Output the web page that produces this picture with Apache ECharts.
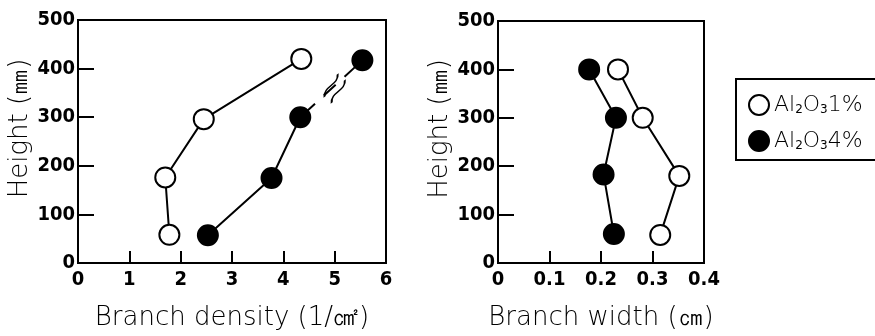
<!DOCTYPE html>
<html>
<head>
<meta charset="utf-8">
<script src="https://cdn.jsdelivr.net/npm/echarts@6/dist/echarts.min.js"></script>
<style>
  html, body { margin: 0; padding: 0; background: #fff; }
  #chart { width: 875px; height: 336px; }
</style>
</head>
<body>
<div id="chart"></div>
<script>
/* data: [value, height(mm)] */
let densityOpen = [[1.78, 58], [1.70, 176], [2.45, 296], [4.35, 420]];
let densityFilled = [[2.53, 57], [3.77, 175], [4.33, 300]];
let densityFilledTop = [[4.33, 300], [5.54, 417]];
let densityBreak = [5.0, 359];
let widthOpen = [[0.315, 58], [0.352, 180], [0.281, 300], [0.233, 400]];
let widthFilled = [[0.225, 60], [0.205, 183], [0.229, 300], [0.177, 400]];
let seriesNames = ['Al2O3 1%', 'Al2O3 4%'];

let chart = echarts.init(document.getElementById('chart'));

let tickFont = {
    color: '#000',
    fontFamily: '"DejaVu Sans Condensed", Roboto, sans-serif',
    fontWeight: 'bold',
    fontSize: 20
};
let nameFont = {
    color: '#000',
    fontFamily: 'DejaVu Sans',
    fontWeight: 'lighter',
    fontSize: 26
};

function xAxis(idx, max, interval, name){
    "use strict";
    return {
        type: 'value', gridIndex: idx, min: 0, max: max, interval: interval,
        name: name, nameLocation: 'middle', nameGap: 42, nameTextStyle: nameFont,
        axisLine: { lineStyle: { color: '#000', width: 2 } },
        axisTick: { inside: true, length: 12, lineStyle: { color: '#000', width: 2 } },
        axisLabel: Object.assign({ margin: 7 }, tickFont),
        splitLine: { show: false }
    };
}
function yAxis(idx){
    "use strict";
    return {
        type: 'value', gridIndex: idx, min: 0, max: 500, interval: 100,
        name: 'Height (㎜)', nameLocation: 'middle', nameGap: 45,
        nameTextStyle: Object.assign({ padding: [0, 0, 0, 26] }, nameFont),
        axisLine: { lineStyle: { color: '#000', width: 2 } },
        axisTick: { inside: true, length: 16, lineStyle: { color: '#000', width: 2 } },
        axisLabel: Object.assign({ margin: 3 }, tickFont),
        splitLine: { show: false }
    };
}

let openStyle = { color: '#fff', borderColor: '#000', borderWidth: 2 };
let filledStyle = { color: '#000', borderColor: '#000', borderWidth: 2 };
let lineStyle = { color: '#000', width: 2 };

let option = {
    animation: false,
    grid: [
        { left: 78, top: 20, width: 308, height: 248, show: true, borderColor: '#000', borderWidth: 2 },
        { left: 498, top: 21, width: 206, height: 249, show: true, borderColor: '#000', borderWidth: 2 }
    ],
    xAxis: [
        xAxis(0, 6, 1, 'Branch density (1/㎠)'),
        xAxis(1, 0.4, 0.1, 'Branch width (㎝)')
    ],
    yAxis: [yAxis(0), yAxis(1)],
    legend: {
        left: 736, top: 79, orient: 'vertical',
        icon: 'circle', itemWidth: 20, itemHeight: 20, itemGap: 14,
        borderColor: '#000', borderWidth: 2, borderRadius: 0,
        padding: [15, 20, 8, 12],
        data: seriesNames,
        formatter: function(n){
            return n === seriesNames[0]
                ? '{a|Al}{s|2}{a|O}{s|3}{a|1%}'
                : '{a|Al}{s|2}{a|O}{s|3}{a|4%}';
        },
        textStyle: {
            rich: {
                a: { fontFamily: 'DejaVu Sans', fontWeight: 'lighter', fontSize: 22, color: '#000' },
                s: { fontFamily: 'DejaVu Sans', fontSize: 12, color: '#000', verticalAlign: 'bottom', padding: [10, 0, 0, 0] }
            }
        }
    },
    series: [
        {
            name: seriesNames[0], type: 'line', xAxisIndex: 0, yAxisIndex: 0,
            data: densityOpen, symbol: 'circle', symbolSize: 20, z: 3,
            itemStyle: openStyle, lineStyle: lineStyle
        },
        {
            name: seriesNames[1], type: 'line', xAxisIndex: 0, yAxisIndex: 0,
            data: densityFilled, symbol: 'circle', symbolSize: 20, z: 3,
            itemStyle: filledStyle, lineStyle: lineStyle
        },
        {
            /* dashed part above the break */
            type: 'line', xAxisIndex: 0, yAxisIndex: 0,
            data: [{ value: densityFilledTop[0], symbol: 'none' }, densityFilledTop[1]],
            symbol: 'circle', symbolSize: 20, z: 3,
            itemStyle: filledStyle,
            lineStyle: { color: '#000', width: 2, type: [16, 12], dashOffset: -4 },
            markPoint: {
                silent: true,
                symbol: 'path://M0,0 C7,6 -3,14 4,20 M8,0 C15,6 5,14 12,20',
                symbolSize: [14, 26],
                symbolRotate: -40,
                itemStyle: { color: 'none', borderColor: '#000', borderWidth: 2 },
                label: { show: false },
                data: [{ coord: densityBreak }]
            }
        },
        {
            name: seriesNames[0], type: 'line', xAxisIndex: 1, yAxisIndex: 1,
            data: widthOpen, symbol: 'circle', symbolSize: 20, z: 3,
            itemStyle: openStyle, lineStyle: lineStyle
        },
        {
            name: seriesNames[1], type: 'line', xAxisIndex: 1, yAxisIndex: 1,
            data: widthFilled, symbol: 'circle', symbolSize: 20, z: 3,
            itemStyle: filledStyle, lineStyle: lineStyle
        }
    ]
};
chart.setOption(option);
</script>
</body>
</html>
